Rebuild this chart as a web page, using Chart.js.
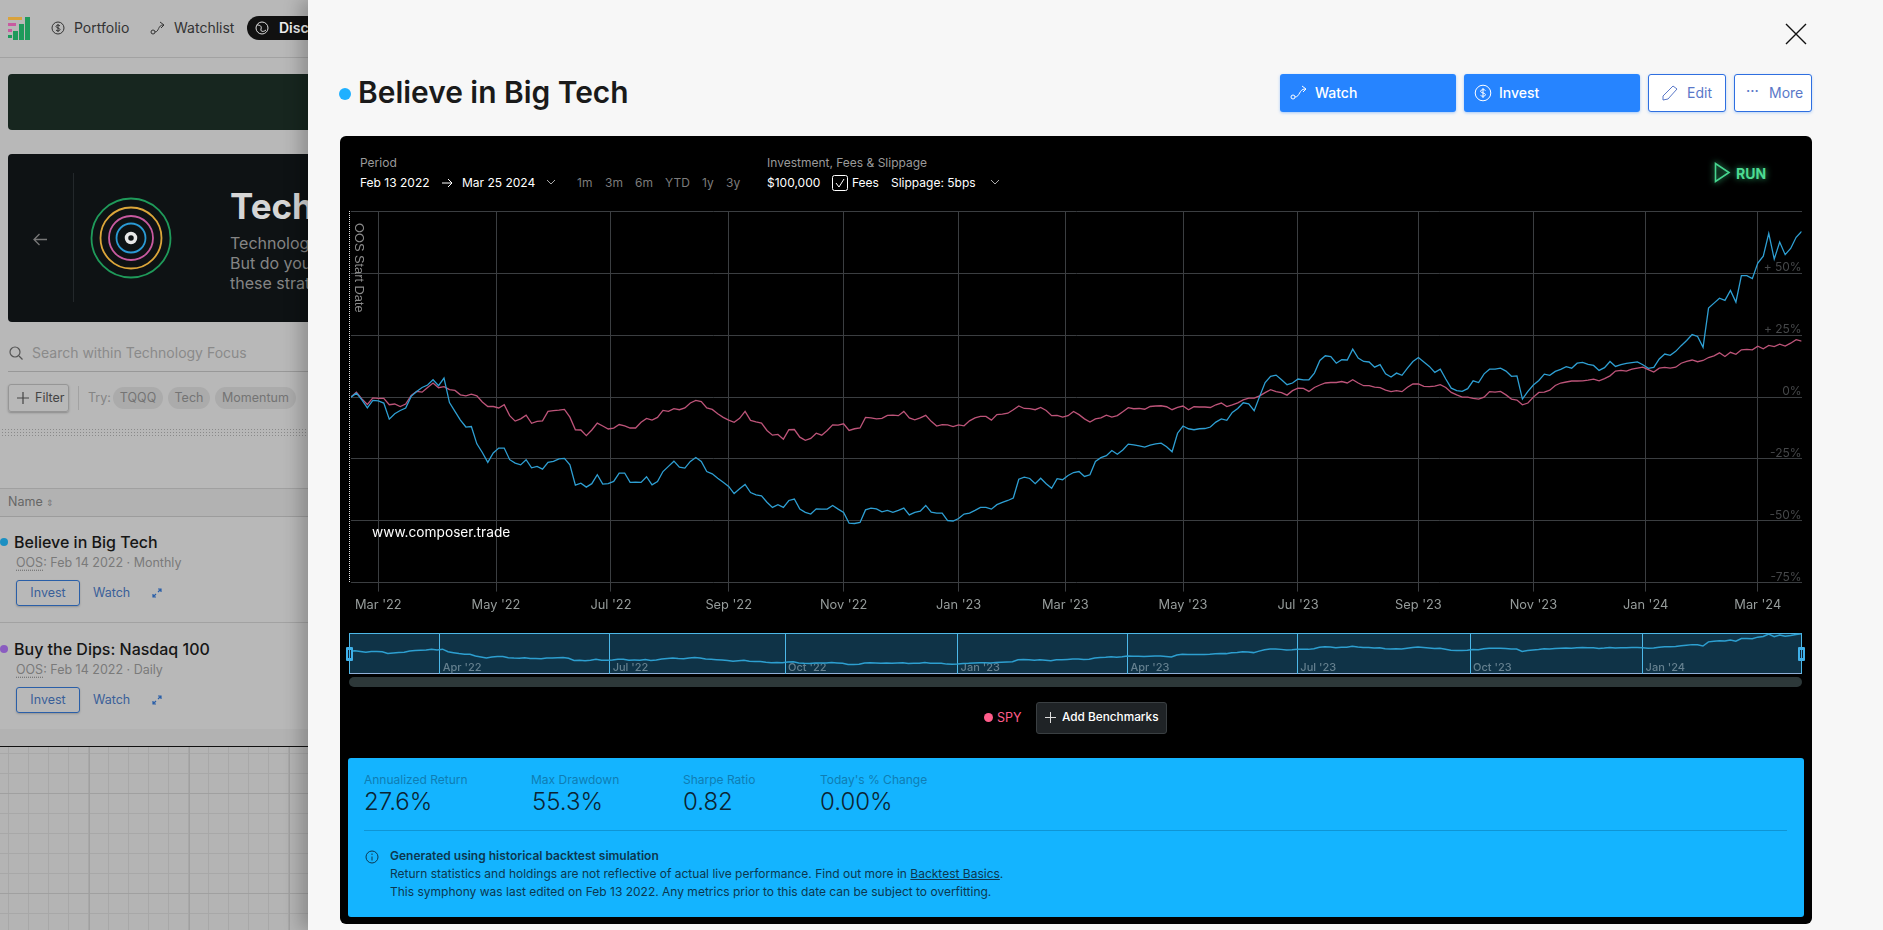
<!DOCTYPE html>
<html><head><meta charset="utf-8">
<script src="https://cdn.jsdelivr.net/npm/chart.js@4"></script>
<style>
html,body{margin:0;padding:0;width:1883px;height:930px;overflow:hidden;background:#b8b8b8;font-family:Inter,sans-serif}
.a{position:absolute;white-space:nowrap}
.c{transform:translateY(-50%);line-height:1}
#grid{left:0;top:747px;width:308px;height:183px;background-color:#b4b4b4;
background-image:linear-gradient(#a0a0a0 1px,transparent 1px),linear-gradient(90deg,#a0a0a0 1px,transparent 1px),linear-gradient(#a8a8a8 1px,transparent 1px),linear-gradient(90deg,#a8a8a8 1px,transparent 1px);
background-size:100px 100px,100px 100px,20px 20px,20px 20px;background-position:0 46px,-11px 0,0 6px,8px 0}
.chip{background:#ababab;color:#747474;border-radius:11px;height:22px;top:387px;font-size:12.5px;line-height:22px;text-align:center}
.inv{left:16px;width:62px;height:24px;border:1px solid #2a5fa8;border-radius:3px;color:#3a5f98;font-size:12.5px;line-height:24px;text-align:center;box-shadow:0 1px 2px rgba(0,0,0,.2)}
.blue{background:#2684ff;color:#fff;top:74px;height:38px;border-radius:3px;box-shadow:0 1px 3px rgba(38,132,255,.4)}
.wht{background:#fff;top:74px;height:36px;border:1px solid #2f6fe0;border-radius:3px;box-shadow:0 1px 3px rgba(38,132,255,.3)}
.btxt{font-size:14px;font-weight:500}
.per{top:183px;font-size:12px;color:#7c7c7c}
.wh{top:183px;font-size:12px;color:#fff}
.lb{top:780px;font-size:12px;color:#0f7db3}
.val{top:802px;font-size:24px;font-weight:300;color:#0b2433}
.note{left:390px;font-size:12px;color:#0c3850}
</style></head><body>
<!-- background app -->
<svg class="a" style="left:8px;top:17px" width="23" height="23"><rect x="17" y="0" width="5" height="23" fill="#1e9a5b"/><rect x="11" y="7" width="5" height="16" fill="#1e9a5b"/><rect x="5" y="14" width="5" height="9" fill="#1e9a5b"/><rect x="0" y="0" width="14" height="3" fill="#d9a23c"/><rect x="0" y="6" width="8" height="3" fill="#c85aa0"/><rect x="0" y="12" width="4" height="3" fill="#c85aa0"/><rect x="0" y="18" width="4" height="3" fill="#1e9a5b"/></svg>
<svg class="a" style="left:51px;top:21px" width="14" height="14" fill="none" stroke="#333"><circle cx="7" cy="7" r="6"/><path d="M9 5c-1-1.5-4-1-4 .5S9 7 9 8.500 6 10.500 5 9M7 3v8"/></svg>
<div class="a c" style="left:74px;top:28px;font-size:14px;color:#333">Portfolio</div>
<svg class="a" style="left:150px;top:21px" width="16" height="14" fill="none" stroke="#333"><circle cx="3" cy="11" r="2"/><path d="M5 11c4 0 3-7 8-7M10 1l4 3-3 3"/></svg>
<div class="a c" style="left:174px;top:28px;font-size:14px;color:#333">Watchlist</div>
<div class="a" style="left:247px;top:16px;width:100px;height:24px;border-radius:12px;background:#111"></div>
<svg class="a" style="left:255px;top:21px" width="14" height="14" fill="none" stroke="#ddd"><circle cx="7" cy="7" r="6"/><path d="M2 4c3 0 5 1 4 4s3 3 5 1"/></svg>
<div class="a c" style="left:279px;top:28px;font-size:14px;font-weight:600;color:#eee">Discover</div>
<div class="a" style="left:0;top:57px;width:308px;height:1px;background:#a2a2a2"></div>
<div class="a" style="left:0;top:0;width:308px;height:57px;background:#bdbdbd;z-index:-1"></div>
<div class="a" style="left:8px;top:74px;width:320px;height:56px;border-radius:4px;background:#17261f"></div>
<div class="a" style="left:8px;top:154px;width:320px;height:168px;border-radius:4px;background:#0e1214"></div>
<div class="a" style="left:73px;top:173px;width:1px;height:129px;background:#23282b"></div>
<svg class="a" style="left:33px;top:233px" width="15" height="13" fill="none" stroke="#777" stroke-width="1.300"><path d="M14 6.500H1M6.500 1L1 6.500 6.500 12"/></svg>
<svg class="a" style="left:88px;top:195px" width="86" height="86" fill="none" stroke-width="1.800"><circle cx="43" cy="43" r="39.500" stroke="#1f9a5a"/><circle cx="43" cy="43" r="30.500" stroke="#dca63a"/><circle cx="43" cy="43" r="22" stroke="#c85aa0"/><circle cx="43" cy="43" r="14.500" stroke="#2a9ad5"/><circle cx="43" cy="43" r="4.500" stroke="#e8e8e8" stroke-width="3.500"/></svg>
<div class="a c" style="left:230px;top:206px;font-size:35px;font-weight:700;color:#d6d6d6">Technology Focus</div>
<div class="a c" style="left:230px;top:243px;font-size:16px;color:#858585">Technology stocks</div>
<div class="a c" style="left:230px;top:263px;font-size:16px;color:#858585">But do you know</div>
<div class="a c" style="left:230px;top:283px;font-size:16px;color:#858585">these strategies</div>
<svg class="a" style="left:9px;top:346px" width="14" height="14" fill="none" stroke="#555" stroke-width="1.200"><circle cx="6" cy="6" r="5"/><path d="M10 10l3.500 3.500"/></svg>
<div class="a c" style="left:32px;top:353px;font-size:14px;color:#8a8a8a">Search within Technology Focus</div>
<div class="a" style="left:8px;top:371px;width:300px;height:1px;background:#989898"></div>
<div class="a" style="left:8px;top:384px;width:59px;height:26px;border:1px solid #969696;border-radius:3px;box-shadow:0 1px 2px rgba(0,0,0,.25)"></div>
<svg class="a" style="left:17px;top:392px" width="12" height="12" stroke="#444" stroke-width="1.200"><path d="M6 0v12M0 6h12"/></svg>
<div class="a c" style="left:35px;top:398px;font-size:12.5px;color:#444">Filter</div>
<div class="a" style="left:78px;top:386px;width:1px;height:24px;background:#a2a2a2"></div>
<div class="a c" style="left:88px;top:398px;font-size:12.5px;color:#858585">Try:</div>
<div class="a chip" style="left:113px;width:50px">TQQQ</div>
<div class="a chip" style="left:168px;width:42px">Tech</div>
<div class="a chip" style="left:215px;width:81px">Momentum</div>
<div class="a" style="left:1px;top:428px;width:305px;height:9px;background-image:radial-gradient(#8a8a8a .6px,transparent .7px);background-size:3px 3px"></div>
<div class="a" style="left:0;top:488px;width:308px;height:1px;background:#a0a0a0"></div>
<div class="a" style="left:0;top:489px;width:308px;height:27px;background:#b2b2b2"></div>
<div class="a c" style="left:8px;top:502px;font-size:12.5px;color:#666">Name <span style="font-size:9px;color:#777">&#8661;</span></div>
<div class="a" style="left:0;top:516px;width:308px;height:1px;background:#9c9c9c"></div>
<div class="a" style="left:0;top:538px;width:8px;height:8px;border-radius:50%;background:#1b8fc2"></div>
<div class="a c" style="left:14px;top:542px;font-size:16px;font-weight:500;color:#161616">Believe in Big Tech</div>
<div class="a c" style="left:16px;top:563px;font-size:12.5px;color:#7a7a7a"><span style="border-bottom:1px dotted #666">OOS</span>: Feb 14 2022 · Monthly</div>
<div class="a inv" style="top:580px">Invest</div>
<div class="a c" style="left:93px;top:593px;font-size:12.5px;color:#3a5f98">Watch</div>
<svg class="a" style="left:152px;top:588px" width="10" height="10" fill="none" stroke="#2a5fa8" stroke-width="1.200"><path d="M6 1h3v3M9 1L6 4M4 9H1V6M1 9l3-3"/></svg>
<div class="a" style="left:0;top:622px;width:308px;height:1px;background:#a2a2a2"></div>
<div class="a" style="left:0;top:645px;width:8px;height:8px;border-radius:50%;background:#8a5cc0"></div>
<div class="a c" style="left:14px;top:649px;font-size:16px;font-weight:500;color:#161616">Buy the Dips: Nasdaq 100</div>
<div class="a c" style="left:16px;top:670px;font-size:12.5px;color:#7a7a7a"><span style="border-bottom:1px dotted #666">OOS</span>: Feb 14 2022 · Daily</div>
<div class="a inv" style="top:687px">Invest</div>
<div class="a c" style="left:93px;top:700px;font-size:12.5px;color:#3a5f98">Watch</div>
<svg class="a" style="left:152px;top:695px" width="10" height="10" fill="none" stroke="#2a5fa8" stroke-width="1.200"><path d="M6 1h3v3M9 1L6 4M4 9H1V6M1 9l3-3"/></svg>
<div class="a" style="left:0;top:729px;width:308px;height:17px;background:#b2b2b2"></div>
<div class="a" style="left:0;top:746px;width:308px;height:1px;background:#111"></div>
<div class="a" id="grid"></div>

<!-- panel -->
<div class="a" style="left:308px;top:0;width:1575px;height:930px;background:#f7f7f7;box-shadow:-8px 0 16px rgba(0,0,0,.22)"></div>
<svg class="a" style="left:1785px;top:23px" width="22" height="22" stroke="#111" stroke-width="1.400"><path d="M1 1l20 20M21 1L1 21"/></svg>
<div class="a" style="left:339px;top:88px;width:12px;height:12px;border-radius:50%;background:#1fb0ff"></div>
<div class="a c" style="left:358px;top:93px;font-size:29.9px;font-weight:600;color:#1a1a1a">Believe in Big Tech</div>
<div class="a blue" style="left:1280px;width:176px"></div>
<svg class="a" style="left:1290px;top:85px" width="18" height="16" fill="none" stroke="#fff"><circle cx="3" cy="12" r="2"/><path d="M5 12c5 0 4-8 10-8M12 1l4 3-3 3"/></svg>
<div class="a c btxt" style="left:1315px;top:93px;color:#fff">Watch</div>
<div class="a blue" style="left:1464px;width:176px"></div>
<svg class="a" style="left:1474px;top:84px" width="18" height="18" fill="none" stroke="#fff"><circle cx="9" cy="9" r="7.800"/><path d="M11.500 6.500c-1-1.500-5-1-5 .8s5 1.500 5 3.400-4 2-5 .6M9 4v10"/></svg>
<div class="a c btxt" style="left:1499px;top:93px;color:#fff">Invest</div>
<div class="a wht" style="left:1648px;width:76px"></div>
<svg class="a" style="left:1662px;top:84px" width="17" height="17" fill="none" stroke="#5a78c8"><path d="M1 12L11 2l4 3L6 15l-5 1z"/></svg>
<div class="a c btxt" style="left:1687px;top:93px;color:#5a78c8;font-weight:400">Edit</div>
<div class="a wht" style="left:1734px;width:76px"></div>
<div class="a c btxt" style="left:1746px;top:91px;color:#5a78c8">···</div>
<div class="a c btxt" style="left:1769px;top:93px;color:#5a78c8;font-weight:400">More</div>

<div class="a" style="left:340px;top:136px;width:1472px;height:788px;background:#000;border-radius:6px"></div>
<div class="a c" style="left:360px;top:163px;font-size:12px;color:#9a9a9a">Period</div>
<div class="a c wh" style="left:360px">Feb 13 2022</div>
<svg class="a" style="left:442px;top:178px" width="11" height="10" fill="none" stroke="#fff"><path d="M0 5h10M6 1l4 4-4 4"/></svg>
<div class="a c wh" style="left:462px">Mar 25 2024</div>
<svg class="a" style="left:546px;top:179px" width="10" height="7" fill="none" stroke="#aaa"><path d="M1 1l4 4 4-4"/></svg>
<div class="a c per" style="left:577px">1m</div>
<div class="a c per" style="left:605px">3m</div>
<div class="a c per" style="left:635px">6m</div>
<div class="a c per" style="left:665px">YTD</div>
<div class="a c per" style="left:702px">1y</div>
<div class="a c per" style="left:726px">3y</div>
<div class="a c" style="left:767px;top:163px;font-size:12px;color:#9a9a9a">Investment, Fees &amp; Slippage</div>
<div class="a c wh" style="left:767px">$100,000</div>
<svg class="a" style="left:832px;top:175px" width="16" height="16" fill="none" stroke="#fff"><rect x=".5" y=".5" width="15" height="15" rx="2"/><path d="M4 8l3 4 5-8"/></svg>
<div class="a c wh" style="left:852px">Fees</div>
<div class="a c wh" style="left:891px">Slippage: 5bps</div>
<svg class="a" style="left:990px;top:179px" width="10" height="7" fill="none" stroke="#aaa"><path d="M1 1l4 4 4-4"/></svg>
<svg class="a" style="left:1713px;top:161px;filter:drop-shadow(0 0 3px #3fd68a)" width="19" height="23" fill="none" stroke="#46d58f" stroke-width="1.600"><path d="M2.500 2.500v18L16 11.500z"/></svg>
<div class="a c" style="left:1736px;top:174px;font-size:14px;font-weight:700;color:#4ddb92;text-shadow:0 0 6px #2fae6e">RUN</div>

<!-- main chart -->
<div class="a" style="left:349px;top:197px;width:1454px;height:423px"><canvas id="main" width="1454" height="423" style="display:block"></canvas></div>
<div class="a" style="left:349px;top:211px;height:371px;border-left:1px dotted #e8e8e8"></div>
<div class="a" style="left:352px;top:223px;font-family:'Liberation Sans',sans-serif;font-size:12.8px;color:#8c8c8c;writing-mode:vertical-rl;line-height:14px">OOS Start Date</div>
<div class="a c" style="left:372px;top:533px;font-size:13.7px;color:#fff">www.composer.trade</div>

<!-- navigator -->
<div class="a" style="left:349px;top:633px;width:1451px;height:39px;background:#0f3347;border:1px solid #4db8e8;border-bottom-color:#8fb0d8"></div>
<div class="a" style="left:349px;top:633px;width:1453px;height:41px"><canvas id="nav" width="1453" height="41" style="display:block"></canvas></div>
<div class="a" style="left:346px;top:647px;width:7px;height:14px;background:#3fb0e8;border-radius:1px"></div>
<div class="a" style="left:348px;top:650px;width:3px;height:8px;border-left:1px solid #123;border-right:1px solid #123;box-sizing:border-box"></div>
<div class="a" style="left:1798px;top:647px;width:7px;height:14px;background:#3fb0e8;border-radius:1px"></div>
<div class="a" style="left:1800px;top:650px;width:3px;height:8px;border-left:1px solid #123;border-right:1px solid #123;box-sizing:border-box"></div>
<div class="a" style="left:349px;top:677px;width:1453px;height:10px;border-radius:5px;background:#2d3839"></div>

<!-- legend -->
<div class="a" style="left:984px;top:713px;width:9px;height:9px;border-radius:50%;background:#ff5c8a"></div>
<div class="a c" style="left:997px;top:718px;font-size:12.5px;color:#ff5c8a">SPY</div>
<div class="a" style="left:1036px;top:702px;width:129px;height:30px;background:#1f2326;border:1px solid #3a3f42;border-radius:3px"></div>
<svg class="a" style="left:1045px;top:712px" width="11" height="11" stroke="#ddd"><path d="M5.500 0v11M0 5.500h11"/></svg>
<div class="a c" style="left:1062px;top:718px;font-size:11.8px;font-weight:500;color:#fff">Add Benchmarks</div>

<!-- stats -->
<div class="a" style="left:348px;top:758px;width:1456px;height:159px;background:#14b4ff;border-radius:3px"></div>
<div class="a c lb" style="left:364px">Annualized Return</div>
<div class="a c lb" style="left:531px">Max Drawdown</div>
<div class="a c lb" style="left:683px">Sharpe Ratio</div>
<div class="a c lb" style="left:820px">Today's % Change</div>
<div class="a c val" style="left:364px">27.6%</div>
<div class="a c val" style="left:532px">55.3%</div>
<div class="a c val" style="left:683px">0.82</div>
<div class="a c val" style="left:820px">0.00%</div>
<div class="a" style="left:364px;top:830px;width:1423px;height:1px;background:#0f95d5"></div>
<svg class="a" style="left:365px;top:850px" width="14" height="14" fill="none" stroke="#0c3850"><circle cx="7" cy="7" r="6"/><path d="M7 6.500v4M7 3.500v1.500"/></svg>
<div class="a c note" style="top:856px;font-weight:600">Generated using historical backtest simulation</div>
<div class="a c note" style="top:874px">Return statistics and holdings are not reflective of actual live performance. Find out more in <span style="text-decoration:underline">Backtest Basics</span>.</div>
<div class="a c note" style="top:892px">This symphony was last edited on Feb 13 2022. Any metrics prior to this date can be subject to overfitting.</div>

<script>
// trading-day index since Feb 14 2022 for each sampled value
const tradingDay = [0,2,4,6,8,10,12,14,16,18,20,22,24,26,28,30,32,34,36,38,40,42,44,46,48,50,52,54,56,58,60,62,64,66,68,70,72,74,76,78,80,82,84,86,88,90,92,94,96,98,100,102,104,106,108,110,112,114,116,118,120,122,124,126,128,130,132,134,136,138,140,142,144,146,148,150,152,154,156,158,160,162,164,166,168,170,172,174,176,178,180,182,184,186,188,190,192,194,196,198,200,202,204,206,208,210,212,214,216,218,220,222,224,226,228,230,232,234,236,238,240,242,244,246,248,250,252,254,256,258,260,262,264,266,268,270,272,274,276,278,280,282,284,286,288,290,292,294,296,298,300,302,304,306,308,310,312,314,316,318,320,322,324,326,328,330,332,334,336,338,340,342,344,346,348,350,352,354,356,358,360,362,364,366,368,370,372,374,376,378,380,382,384,386,388,390,392,394,396,398,400,402,404,406,408,410,412,414,416,418,420,422,424,426,428,430,432,434,436,438,440,442,444,446,448,450,452,454,456,458,460,462,464,466,468,470,472,474,476,478,480,482,484,486,488,490,492,494,496,498,500,502,504,506,508,510,512,514,516,518,520,522,524,526,528,530];
// Believe in Big Tech, % return
const strategy = [0,1.6,-1.1,-4.4,-1.3,-1.5,-2.4,-8.9,-6.7,-5.4,
-4.4,0.3,2.3,3.9,4.9,7,4.6,7.7,-2.2,-5.8,
-9.3,-12.1,-11.9,-18.9,-22.4,-26.4,-22.6,-20.6,-20.6,-25.3,
-26.7,-27.4,-25.3,-28.6,-28,-29.1,-26.4,-26,-25,-24.8,
-27.4,-35.6,-34.8,-36.4,-35,-31.4,-35.2,-35,-34.1,-30.7,
-30.7,-34.5,-34.4,-34.5,-32.2,-35.5,-34.1,-30.1,-28,-25.9,
-28.3,-28.7,-26,-24.4,-26,-30.1,-31,-32.8,-34.4,-36.1,
-39,-37.1,-35.3,-38.6,-39.5,-39.9,-42.5,-44.6,-43.5,-44.6,
-41.8,-41.2,-45.3,-46.6,-47.3,-45.2,-45.3,-45.3,-43.8,-45.3,
-46.6,-51,-51.1,-50.7,-45.6,-44.9,-45.2,-46.4,-45.8,-46.6,
-45.8,-44.9,-47.6,-46.6,-46.1,-43.8,-46.5,-46.9,-46.9,-49.9,
-50.1,-49.1,-47.3,-46.9,-45.8,-44.6,-44.6,-45.3,-43.5,-42.6,
-41.8,-40.8,-33.2,-32.4,-32.9,-35,-32.8,-35,-36.9,-33,
-33.4,-31.7,-30.5,-30.1,-32.1,-31.4,-26,-24.5,-23.7,-21.6,
-23.1,-21.4,-19,-19.3,-19.7,-20.2,-19.4,-18.9,-18.6,-20.1,
-22.1,-14.6,-11.7,-12.8,-13.2,-12.8,-12.7,-12.1,-10.1,-8.8,
-9.4,-6.2,-4.6,-2.3,-2.7,-5.5,0.3,5.9,8.4,8.9,
7,5,5.7,7.3,7,7,9.7,14.8,16.7,16.4,
13.7,15.1,15,19.4,15.8,14.4,14.2,12.1,13.1,9.4,
8.1,9.7,8.8,11.7,14.4,16,14.2,12.4,10,11.3,
7.3,3.6,2.6,2.3,3.4,6.6,5.9,9.4,11.3,11.3,
11.7,10.5,8.4,8.6,-0.8,2.3,4.9,6.7,9.3,8.8,
10.4,11.2,12.3,11.7,13.7,14,13.2,12.8,10.8,11.9,
14.4,12.4,13.1,13.6,13.9,14.2,13.1,11.6,12,15.4,
17.4,16.9,18.5,20.8,22.9,25.3,24.5,20.1,36,38,
40,39.1,43.1,38.4,49.1,49.1,47.9,54.2,57,66.2,
55.8,62.7,57.6,60.1,64.6,67];
// SPY benchmark, % return
const spy = [0,2,-0.7,-3,-0.3,-0.5,-0.5,-3.1,-2.8,-3.8,
-2.8,0.7,2.3,2,3.9,5.7,3.8,4.2,3,2.7,
0.9,0.5,1.2,0.5,-2,-3.8,-3.8,-4.4,-3.1,-7.5,
-9.7,-8.8,-7.3,-10.6,-9.8,-9.6,-5.8,-5.5,-5.3,-5,
-8.1,-13.2,-13.3,-15.6,-13.3,-10.5,-11.7,-12.9,-12.5,-11.1,
-11.6,-12.5,-12.5,-10.2,-8.6,-9.3,-8.2,-5.4,-5.8,-4.7,
-5.1,-4.4,-2.4,-1.3,-1.8,-4.4,-5,-6.7,-8.2,-9.3,
-10.2,-8.6,-5.8,-9.4,-10,-10.5,-13.5,-15.4,-15.1,-17,
-13.2,-13.1,-16.2,-17.5,-16.7,-14.6,-15.4,-13.5,-11.2,-11.3,
-10.8,-13.5,-12.8,-12.5,-8.2,-8.4,-8.8,-8.6,-7.4,-7.3,
-7.5,-5.8,-8.4,-9.2,-8.4,-7.4,-9.8,-11.7,-11.1,-11.2,
-11.9,-11.2,-11.6,-9.6,-8.4,-7.8,-7.8,-9.3,-7.1,-6.9,
-6.5,-5.1,-3.6,-4.6,-4.7,-5.1,-4.2,-5.4,-7.5,-7.4,
-8.1,-7.5,-5.8,-7.1,-8.8,-10.1,-8.8,-8.4,-7.3,-8.1,
-7.5,-5.9,-4.3,-4.7,-4.6,-4.9,-3.8,-3.6,-3.5,-3.9,
-5.1,-4.2,-3.6,-5.1,-3.9,-4,-4,-4.2,-3.1,-2.4,
-3.8,-3.1,-2.3,-1.1,-0.4,-0.4,0.5,1.8,3,2.2,
1.8,0.8,2.6,3.6,3.5,2.3,3.9,4.9,5.7,5.9,
5.9,6.3,5.7,7,5.7,4.6,4.6,4,3.8,2.8,
2.2,2.6,2.2,4,5.3,5.3,4.3,4.2,4.4,5,
3.9,1.9,0.9,0,0,-0.5,-0.8,0,2.2,2,
2.3,0.9,-0.8,-1.2,-3.1,-2.4,0,1.9,2,2.8,
4.7,5.7,6.1,6.5,6.5,6.6,6.9,7.3,6.6,7.5,
8.6,10.5,10.8,10.5,11.3,11.7,12.1,11.1,10.1,11.7,
12,11.7,12.1,13.7,14.4,15,14.3,14.8,16,16.7,
17.9,16.4,18.1,17.3,19.1,19.3,19.1,20.6,19.5,20.9,
20.4,21.4,20.6,21.8,23.2,22.6];
// axis ticks
const monthTickDays = [10,53,95,138,180,222,261,304,346,390,432,473,514];
const monthTickLabels = ["Mar '22","May '22","Jul '22","Sep '22","Nov '22","Jan '23","Mar '23","May '23","Jul '23","Sep '23","Nov '23","Jan '24","Mar '24"];
const navTickDays = [33,95,159,222,284,346,409,472];
const navTickLabels = ["Apr '22","Jul '22","Oct '22","Jan '23","Apr '23","Jul '23","Oct '23","Jan '24"];
const percentTicks = [75,50,25,0,-25,-50,-75];
const percentLabels = ["","+ 50%","+ 25%","0%","-25%","-50%","-75%"];
const lastDay = 530;

const pts = vals => vals.map((v,i)=>({x:tradingDay[i],y:v}));
const GRID = '#3b3e41';

new Chart(document.getElementById('main'),{
  type:'line',
  data:{datasets:[
    {label:'Believe in Big Tech',data:pts(strategy),borderColor:'#2e9fd3',borderWidth:1.3,pointRadius:0,tension:0},
    {label:'SPY',data:pts(spy),borderColor:'#bd5479',borderWidth:1.3,pointRadius:0,tension:0}
  ]},
  options:{
    responsive:false,animation:false,devicePixelRatio:1,parsing:false,
    layout:{autoPadding:false,padding:{top:14.6,left:0.4,right:1.4,bottom:0}},
    plugins:{legend:{display:false},tooltip:{enabled:false}},
    scales:{
      x:{type:'linear',min:0,max:lastDay,
        afterBuildTicks:s=>{s.ticks=monthTickDays.map(v=>({value:v}))},
        afterFit:s=>{s.height=37.4},
        grid:{color:GRID,tickColor:GRID,tickLength:9,drawTicks:true},
        border:{display:false},
        ticks:{autoSkip:false,maxRotation:0,minRotation:0,padding:6,color:'#969c9b',font:{family:'Inter',size:12.8},
          callback:v=>monthTickLabels[monthTickDays.indexOf(v)]}
      },
      y:{type:'linear',position:'right',min:-75,max:75,
        afterBuildTicks:s=>{s.ticks=percentTicks.map(v=>({value:v}))},
        grid:{color:GRID,drawTicks:false},
        border:{display:false},
        ticks:{mirror:true,padding:0,color:'#454749',font:{family:'Inter',size:12,lineHeight:0.95},
          callback:v=>[percentLabels[percentTicks.indexOf(v)],'']}
      }
    }
  }
});

new Chart(document.getElementById('nav'),{
  type:'line',
  data:{datasets:[{label:'Believe in Big Tech',data:pts(strategy),borderColor:'#2d9fd0',borderWidth:1.5,pointRadius:0,tension:0}]},
  options:{
    responsive:false,animation:false,devicePixelRatio:1,parsing:false,
    layout:{autoPadding:false,padding:{left:0.4,right:0.4,top:0.3,bottom:0}},
    plugins:{legend:{display:false},tooltip:{enabled:false}},
    scales:{
      x:{type:'linear',min:0,max:lastDay,
        afterBuildTicks:s=>{s.ticks=navTickDays.map(v=>({value:v}))},
        afterFit:s=>{s.height=0},
        grid:{color:'#4db8e8',drawTicks:false},
        border:{display:false},
        ticks:{mirror:true,autoSkip:false,maxRotation:0,minRotation:0,align:'start',padding:0,color:'#65808f',font:{family:'Inter',size:11,weight:'500'},
          callback:v=>' '+navTickLabels[navTickDays.indexOf(v)]}
      },
      y:{display:false,min:-88,max:69}
    }
  }
});
</script>
</body></html>
